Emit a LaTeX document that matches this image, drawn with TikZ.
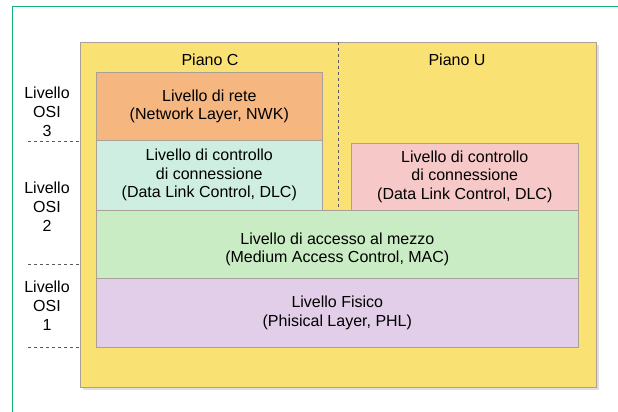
\documentclass[tikz,border=0pt]{standalone}
\usepackage{fontspec}
\setmainfont{Liberation Sans}
\usetikzlibrary{positioning}
\definecolor{frameGreen}{RGB}{20,175,115}
\definecolor{pianoYellow}{RGB}{250,225,115}
\definecolor{reteOrange}{RGB}{245,182,128}
\definecolor{dlcCyan}{RGB}{206,238,226}
\definecolor{dlcPink}{RGB}{246,200,200}
\definecolor{macGreen}{RGB}{202,236,196}
\definecolor{phlPurple}{RGB}{226,206,232}
\definecolor{edgeGray}{RGB}{170,160,150}

\begin{document}
\begin{tikzpicture}[x=1pt, y=-1pt,
        layer/.style={draw=edgeGray, line width=0.6pt, anchor=north west, inner sep=0pt,
            align=center, font=\fontsize{16}{18.5}\selectfont},
        layertext/.style={align=center, font=\fontsize{16}{18.5}\selectfont},
        osi/.style={align=center, font=\fontsize{16}{19}\selectfont},
        plane/.style={font=\fontsize{16}{18.5}\selectfont},
        cut/.style={dashed, line width=0.9pt, gray!70!black}]
        \useasboundingbox (0,0) rectangle (618,412);
        % Outer frame
        \draw[frameGreen, line width=1.2pt] (12.5,420) -- (12.5,6.5) -- (630,6.5);
        
        % Planes
        \fill[gray!25] (83,45) rectangle (599,390);
        \node[layer, fill=pianoYellow, minimum width=516, minimum height=345] (piano) at (80,42) {};
        \node[plane] (pianoC) at (210,60) {Piano C};
        \node[plane] (pianoU) at (457,60) {Piano U};
        
        % Layers
        \node[layer, fill=reteOrange, minimum width=226, minimum height=68] (rete) at (96,72)
            {Livello di rete\\(Network Layer, NWK)};
        \node[layer, fill=dlcCyan, minimum width=226, minimum height=70] (dlcC) at (96,140)
            {Livello di controllo\\di connessione\\(Data Link Control, DLC)};
        \node[layer, fill=dlcPink, minimum width=227, minimum height=67] (dlcU) at (351,143)
            {Livello di controllo\\di connessione\\(Data Link Control, DLC)};
        \node[layer, fill=macGreen, minimum width=482, minimum height=68] (mac) at (96,210) {};
        \node[layertext] (macText) at ([yshift=-5pt]mac.center)
            {Livello di accesso al mezzo\\(Medium Access Control, MAC)};
        \node[layer, fill=phlPurple, minimum width=482, minimum height=69] (phl) at (96,278)
            {Livello Fisico\\(Phisical Layer, PHL)};
        
        % Divider between the planes
        \draw[cut] (piano.north) -- (piano.north |- mac.north);
        
        % OSI levels
        \node[osi] (osi3) at (47,112) {Livello\\OSI\\3};
        \node[osi] (osi2) at (47,207) {Livello\\OSI\\2};
        \node[osi] (osi1) at (47,306) {Livello\\OSI\\1};
        \coordinate (cut3) at (28,141);
        \coordinate (cut2) at (28,264);
        \coordinate (cut1) at (28,347);
        \draw[cut] (cut3) -- (cut3 -| piano.west);
        \draw[cut] (cut2) -- (cut2 -| piano.west);
        \draw[cut] (cut1) -- (cut1 -| piano.west);
    \end{tikzpicture}
\end{document}
